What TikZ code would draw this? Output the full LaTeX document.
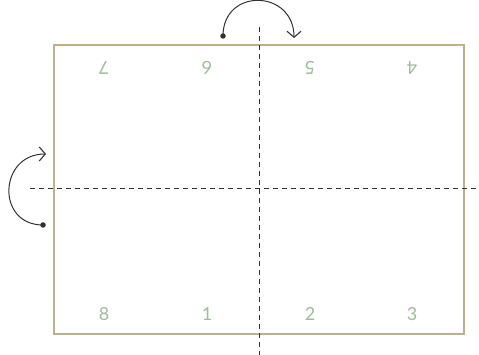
\documentclass[tikz,border=0pt]{standalone}
\usepackage{fontspec}
\setmainfont{Lato}
\usepackage{tikz}
\usetikzlibrary{arrows.meta, positioning}
\definecolor{sheetedge}{RGB}{190,176,140}
\definecolor{pagenum}{RGB}{160,186,156}
\definecolor{foldline}{RGB}{50,50,50}

\begin{document}
\begin{tikzpicture}[
  x=1pt, y=-1pt,
  num/.style={text=pagenum, font=\fontsize{18}{20}\selectfont, inner sep=0pt},
  flipnum/.style={num, rotate=180},
  fold/.style={dashed, dash pattern=on 5pt off 4pt, line width=1pt, foldline},
  turn/.style={-{Straight Barb[length=6pt, width=14pt, line width=1.1pt]}, line width=1pt, foldline},
  pin/.style={circle, fill=foldline, inner sep=0pt, minimum size=5.5pt}
]
  \useasboundingbox (0,0) rectangle (479,355);
  % sheet
  \draw[sheetedge, line width=1.2pt] (54,45) rectangle (464,334);
  % fold lines
  \coordinate (vtop) at (259,27);
  \coordinate (vbot) at (259,355);
  \coordinate (hleft) at (30,189);
  \coordinate (hright) at (477,189);
  \draw[fold] (vtop) -- (vbot);
  \draw[fold] (hleft) -- (hright);
  % upside-down pages
  \node[flipnum] (p7) at (104,68) {7};
  \node[flipnum] (p6) at (207,68) {6};
  \node[flipnum] (p5) at (310,68) {5};
  \node[flipnum] (p4) at (412,68) {4};
  % upright pages
  \node[num] (p8) at (104,314) {8};
  \node[num] (p1) at (207,314) {1};
  \node[num] (p2) at (310,314) {2};
  \node[num] (p3) at (412,314) {3};
  % turn arrows
  \node[pin] (topstart) at (223,36) {};
  \coordinate (topend) at (294,38);
  \draw[turn] (topstart.center) to[out=90, in=90, looseness=1.75] (topend);
  \node[pin] (leftstart) at (43,225) {};
  \coordinate (leftend) at (46,154);
  \draw[turn] (leftstart.center) to[out=180, in=180, looseness=1.7] (leftend);
\end{tikzpicture}
\end{document}
